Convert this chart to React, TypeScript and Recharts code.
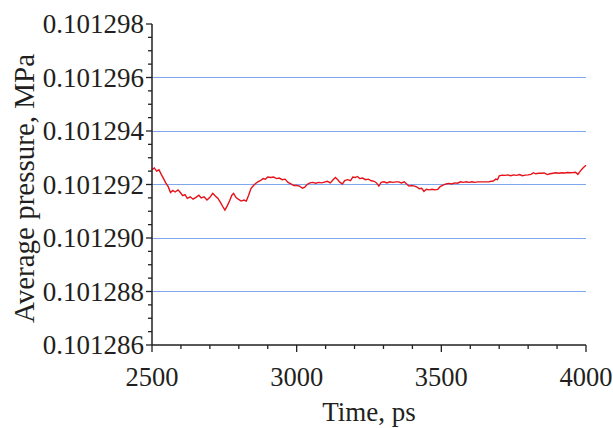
import { LineChart, Line, XAxis, YAxis, ReferenceLine } from 'recharts';

// simulation output: average pressure vs time
const timePs = [
  2500, 2508, 2516, 2524, 2532, 2540, 2548, 2556, 2564, 2572, 2580, 2590, 2598, 2606, 2614, 2622,
  2632, 2642, 2652, 2662, 2670, 2680, 2690, 2700, 2710, 2718, 2728, 2738, 2746, 2752, 2760, 2768,
  2776, 2782, 2790, 2798, 2808, 2818, 2826, 2834, 2842, 2850, 2858, 2866, 2874, 2884, 2892, 2900,
  2910, 2920, 2930, 2940, 2950, 2960, 2970, 2980, 2990, 3000, 3010, 3020, 3028, 3036, 3046, 3056,
  3066, 3076, 3086, 3096, 3106, 3116, 3126, 3134, 3142, 3150, 3158, 3166, 3176, 3186, 3194, 3202,
  3210, 3218, 3228, 3238, 3248, 3258, 3268, 3276, 3284, 3292, 3302, 3312, 3322, 3332, 3342, 3352,
  3362, 3372, 3380, 3388, 3398, 3408, 3416, 3424, 3432, 3440, 3448, 3458, 3468, 3478, 3488, 3496,
  3506, 3516, 3526, 3536, 3546, 3556, 3566, 3576, 3586, 3596, 3606, 3616, 3626, 3636, 3646, 3656,
  3664, 3672, 3680, 3688, 3694, 3700, 3710, 3720, 3730, 3740, 3750, 3760, 3770, 3780, 3790, 3800,
  3810, 3818, 3826, 3836, 3846, 3856, 3866, 3876, 3886, 3896, 3906, 3916, 3926, 3936, 3946, 3956,
  3964, 3972, 3980, 3988, 3994, 4000,
];

const pressureMPa = [
  0.10129255, 0.10129262, 0.1012925, 0.10129255, 0.10129238, 0.10129222, 0.10129205, 0.10129192,
  0.1012917, 0.10129178, 0.10129172, 0.1012918, 0.1012917, 0.10129158, 0.10129162, 0.10129148,
  0.10129154, 0.10129145, 0.10129152, 0.1012916, 0.1012915, 0.10129154, 0.10129142, 0.10129152,
  0.10129167, 0.10129158, 0.10129148, 0.1012913, 0.10129115, 0.10129104, 0.1012912, 0.10129138,
  0.1012916, 0.10129167, 0.10129152, 0.10129145, 0.10129138, 0.10129142, 0.10129138, 0.1012916,
  0.10129185, 0.10129195, 0.10129204, 0.1012921, 0.10129214, 0.10129222, 0.1012922, 0.10129228,
  0.10129226, 0.10129228, 0.10129222, 0.10129224, 0.10129218, 0.1012922, 0.10129208, 0.10129202,
  0.10129196, 0.10129196, 0.10129194, 0.10129186, 0.1012919, 0.101292, 0.10129206, 0.10129208,
  0.10129205, 0.10129208, 0.10129206, 0.10129209, 0.10129212, 0.10129206, 0.10129218, 0.10129226,
  0.10129218, 0.10129208, 0.10129202, 0.10129215, 0.10129218, 0.10129214, 0.10129228, 0.10129226,
  0.1012923, 0.10129222, 0.10129224, 0.10129218, 0.1012922, 0.10129214, 0.10129212, 0.10129206,
  0.10129194, 0.10129208, 0.1012921, 0.10129206, 0.1012921, 0.10129208, 0.1012921, 0.1012921,
  0.10129206, 0.1012921, 0.10129202, 0.10129194, 0.10129196, 0.10129194, 0.1012919, 0.10129184,
  0.10129186, 0.10129174, 0.10129182, 0.1012918, 0.10129182, 0.1012918, 0.10129182, 0.10129192,
  0.10129198, 0.10129202, 0.10129204, 0.10129202, 0.10129206, 0.10129205, 0.1012921, 0.10129208,
  0.1012921, 0.10129208, 0.1012921, 0.10129208, 0.1012921, 0.1012921, 0.1012921, 0.1012921,
  0.1012921, 0.10129212, 0.10129213, 0.1012922, 0.10129218, 0.10129232, 0.10129235, 0.10129234,
  0.10129236, 0.10129233, 0.10129236, 0.10129234, 0.10129237, 0.10129233, 0.10129235, 0.10129236,
  0.10129238, 0.10129244, 0.1012924, 0.10129242, 0.10129242, 0.10129243, 0.10129237, 0.1012924,
  0.10129242, 0.10129244, 0.10129242, 0.10129244, 0.10129243, 0.10129245, 0.10129244, 0.10129245,
  0.10129246, 0.10129238, 0.1012925, 0.1012926, 0.10129266, 0.10129272,
];

const yMajorTicks = [0.101286, 0.101288, 0.10129, 0.101292, 0.101294, 0.101296, 0.101298];
const yGridLines = [0.101288, 0.10129, 0.101292, 0.101294, 0.101296];
const xMajorTicks = [2500, 3000, 3500, 4000];
const xMinorStep = 100;
const yMinorPerMajor = 4;

const data = timePs.map((t, i) => ({ time: t, pressure: pressureMPa[i] }));

// minor ticks: 4 subdivisions per labelled interval on y, every 100 ps on x
const yTicks: number[] = [];
for (let i = 0; i < yMajorTicks.length - 1; i++) {
  const step = (yMajorTicks[i + 1] - yMajorTicks[i]) / yMinorPerMajor;
  for (let k = 0; k < yMinorPerMajor; k++) yTicks.push(yMajorTicks[i] + k * step);
}
yTicks.push(yMajorTicks[yMajorTicks.length - 1]);

const xTicks: number[] = [];
for (let t = xMajorTicks[0]; t <= xMajorTicks[xMajorTicks.length - 1]; t += xMinorStep) xTicks.push(t);

const FONT = '"Liberation Serif", "Times New Roman", serif';
const INK = '#231f20';
const TICK_SIZE = 6;
const TICK_MARGIN = 3;

const isMajorY = (v: number) => yMajorTicks.some((m) => Math.abs(m - v) < 1e-10);

const YTick = (props: any) => {
  const { x, y, payload } = props;
  const major = isMajorY(payload.value);
  const axisX = x + TICK_SIZE + TICK_MARGIN;
  return (
    <g>
      <line x1={axisX - (major ? 6 : 4)} x2={axisX} y1={y} y2={y} stroke={INK} strokeWidth={1.3} />
      {major && (
        <text x={x + 1} y={y} dy={9} textAnchor="end" fontFamily={FONT} fontSize={27} fill={INK}>
          {payload.value.toFixed(6)}
        </text>
      )}
    </g>
  );
};

const XTick = (props: any) => {
  const { x, y, payload } = props;
  const major = xMajorTicks.includes(payload.value);
  const axisY = y - TICK_SIZE - TICK_MARGIN;
  return (
    <g>
      <line x1={x} x2={x} y1={axisY} y2={axisY + (major ? 7 : 4)} stroke={INK} strokeWidth={1.3} />
      {major && (
        <text x={x} y={axisY + 41} textAnchor="middle" fontFamily={FONT} fontSize={26.5} fill={INK}>
          {payload.value}
        </text>
      )}
    </g>
  );
};

export default function App() {
  return (
    <div style={{ position: 'absolute', left: 0, top: 0, background: '#fff' }}>
      <LineChart width={613} height={428} data={data} margin={{ top: 24, right: 27, bottom: 0, left: 0 }}>
        <XAxis
          dataKey="time"
          type="number"
          domain={[2500, 4000]}
          ticks={xTicks}
          interval={0}
          tick={<XTick />}
          tickLine={false}
          tickSize={TICK_SIZE}
          tickMargin={TICK_MARGIN}
          axisLine={{ stroke: INK, strokeWidth: 1.5 }}
          height={83}
          label={{
            content: (p: any) => (
              <text
                x={p.viewBox.x + p.viewBox.width / 2}
                y={p.viewBox.y + 76}
                textAnchor="middle"
                fontFamily={FONT}
                fontSize={27}
                fill={INK}
              >
                Time, ps
              </text>
            ),
          }}
        />
        <YAxis
          type="number"
          domain={[0.101286, 0.101298]}
          allowDataOverflow
          ticks={yTicks}
          interval={0}
          tick={<YTick />}
          tickLine={false}
          tickSize={TICK_SIZE}
          tickMargin={TICK_MARGIN}
          axisLine={{ stroke: INK, strokeWidth: 1.5 }}
          width={152}
          label={{
            content: (p: any) => {
              const cx = p.viewBox.x + 24;
              const cy = p.viewBox.y + p.viewBox.height / 2 + 4;
              return (
                <text
                  x={cx}
                  y={cy}
                  transform={`rotate(-90 ${cx} ${cy})`}
                  textAnchor="middle"
                  dominantBaseline="central"
                  fontFamily={FONT}
                  fontSize={29}
                  fill={INK}
                >
                  Average pressure, MPa
                </text>
              );
            },
          }}
        />
        {yGridLines.map((v) => (
          <ReferenceLine key={v} y={v} stroke="#7fa8ec" strokeWidth={1} shapeRendering="crispEdges" />
        ))}
        <Line
          type="linear"
          dataKey="pressure"
          stroke="#e5121a"
          strokeWidth={1.4}
          dot={false}
          isAnimationActive={false}
        />
      </LineChart>
    </div>
  );
}
